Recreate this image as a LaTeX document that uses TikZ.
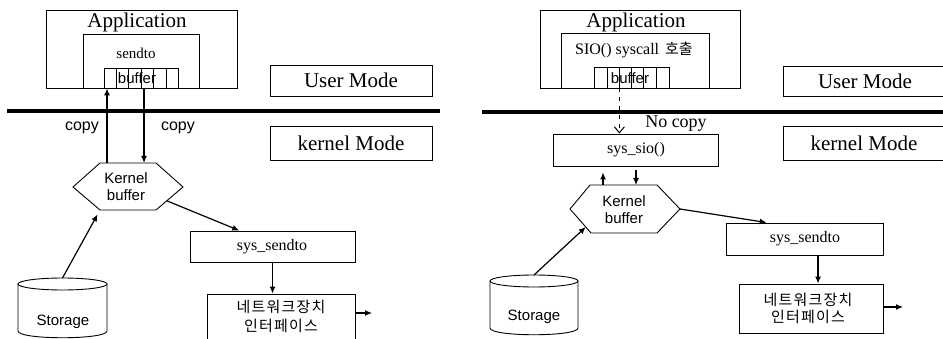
\documentclass[tikz,border=0pt]{standalone}
\usepackage{fontspec}
\setmainfont{Liberation Serif}
\newfontfamily\sansf{Liberation Sans}
\newfontfamily\kfont[LetterSpace=8]{Noto Sans CJK KR}
\newfontfamily\kfontn{Noto Sans CJK KR}
\usetikzlibrary{fit,calc,arrows.meta}
\newcommand\fsz[1]{\fontsize{#1}{#1}\selectfont}

\begin{document}
\begin{tikzpicture}[x=1pt,y=-1pt,
  box/.style={draw, line width=0.9pt, inner sep=0pt},
  cellbox/.style={draw, line width=0.8pt, inner sep=0pt},
  arr/.style={line width=1.2pt, -{Latex[length=7pt,width=6pt]}},
  dasharr/.style={line width=1pt, dash pattern=on 4pt off 5pt, -{Straight Barb[length=6pt,width=10pt]}},
  barline/.style={line width=4pt},
  outline/.style={line width=0.9pt},
  big/.style={inner sep=0pt, font=\fsz{21}},
  mid/.style={inner sep=0pt, font=\fsz{16}},
  small/.style={inner sep=0pt, font=\fsz{15}},
  sanslab/.style={inner sep=0pt, font=\sansf\fsz{15}, align=center},
  korlab/.style={inner sep=0pt, font=\kfont\fsz{15}}
]
\clip (0,0) rectangle (943,339);
\fill[white] (0,0) rectangle (943,339);

% ================= left: ordinary sendto path =================
\node[box, fit={(46,10)(237,88)}] (appL) {};
\node[big] (appLt) at (137,22) {Application};
\node[box, fit={(83,34)(199,88)}] (sendL) {};
\node[small] (sendLt) at (136,53) {sendto};
\foreach \a/\b [count=\i] in {104/116,116/128,128/141,141/153,153/166,166/178}
  \node[cellbox, fit={(\a,68)(\b,88)}] (cL\i) {};
\node[sanslab] (bufL) at (137,78) {buffer};

\draw[barline] (7,111) -- (440,111);

\node[box, fit={(270,65)(432,96)}] (userL) {};
\node[big] (userLt) at (351,80.5) {User Mode};
\node[box, fit={(270,126)(432,160)}] (kernL) {};
\node[big] (kernLt) at (351,143) {kernel Mode};

% kernel buffer hexagon
\coordinate (kLl) at (73,187);
\coordinate (kLtl) at (100,163);
\coordinate (kLtr) at (156,163);
\coordinate (kLr) at (183,187);
\coordinate (kLbr) at (156,210);
\coordinate (kLbl) at (100,210);
\draw[outline] (kLl) -- (kLtl) -- (kLtr) -- (kLr) -- (kLbr) -- (kLbl) -- cycle;
\node[sanslab] (kbL) at (126,186.5) {Kernel\\[1.5pt]buffer};

% copies between user buffer and kernel buffer
\coordinate (cuL) at ($(kLtl)!0.125!(kLtr)$);
\coordinate (cdL) at ($(kLtl)!0.786!(kLtr)$);
\draw[arr] (cuL) -- (cuL |- cL1.south);
\draw[arr] (cdL |- cL1.south) -- (cdL);
\node[sanslab, font=\sansf\fsz{16}] (copyL1) at (82,128) {copy};
\node[sanslab, font=\sansf\fsz{16}] (copyL2) at (178,128) {copy};

\node[box, fit={(190,231)(355,262)}] (ssL) {};
\node[mid] (ssLt) at (272,247) {sys\_sendto};
\draw[arr] ($(kLr)!0.6!(kLbr)$) -- ($(ssL.north west)!0.3!(ssL.north east)$);

\node[box, fit={(207,294)(355,345)}] (netL) {};
\node[korlab] (netL1) at (281,307) {네트워크장치};
\node[korlab] (netL2) at (281,326) {인터페이스};
\draw[arr] (ssL.south) -- (ssL.south |- netL.north);
\coordinate (outL) at (372,313);
\draw[arr] (netL.east |- outL) -- (outL);

% storage cylinder
\draw[outline] (18,284) -- (18,331) .. controls (18,340) and (107,340) .. (107,331) -- (107,284);
\draw[outline] (62.5,284) ellipse [x radius=44.5, y radius=6];
\coordinate (stL) at (62.5,278);
\node[sanslab] (stLt) at (63,322) {Storage};
\draw[arr, shorten >=5pt] (stL) -- (kLbl);

% ================= right: SIO path without copy =================
\node[box, fit={(540,10)(740,88)}] (appR) {};
\node[big] (appRt) at (636,22) {Application};
\node[box, fit={(561,33)(709,88)}] (sioR) {};
\node[mid] (sioRt) at (634,50) {SIO() syscall\hspace{6pt}{\kfontn\fsz{15}호출}};
\foreach \a/\b [count=\i] in {594/607,607/619,619/631,631/643,643/656,656/669}
  \node[cellbox, fit={(\a,67)(\b,88)}] (cR\i) {};
\node[sanslab] (bufR) at (630,78) {buffer};

\draw[barline] (482,112) -- (943,112);

\node[box, fit={(783,66)(945,96)}] (userR) {};
\node[big] (userRt) at (865,81) {User Mode};
\node[box, fit={(783,126)(945,160)}] (kernR) {};
\node[big] (kernRt) at (864,143) {kernel Mode};

\node[box, fit={(553,134)(718,166)}] (sio) {};
\node[mid] (siot) at (636,150) {sys\_sio()};
\draw[dasharr] (cR2.south east) -- (cR2.south east |- sio.north);
\node[big, font=\fsz{18}] (nocopy) at (676,124) {No copy};

% kernel buffer hexagon
\coordinate (kRl) at (570,209);
\coordinate (kRtl) at (590,185);
\coordinate (kRtr) at (657,185);
\coordinate (kRr) at (680,209);
\coordinate (kRbr) at (657,233);
\coordinate (kRbl) at (591,233);
\draw[outline] (kRl) -- (kRtl) -- (kRtr) -- (kRr) -- (kRbr) -- (kRbl) -- cycle;
\node[sanslab] (kbR) at (624,209.5) {Kernel\\[1.5pt]buffer};

\coordinate (cuR) at ($(kRtl)!0.194!(kRtr)$);
\coordinate (cdR) at ($(kRtl)!0.687!(kRtr)$);
\draw[arr, shorten >=6pt] (cuR) -- (cuR |- sio.south);
\draw[arr, shorten <=4pt] (cdR |- sio.south) -- (cdR);

\node[box, fit={(726,223)(883,255)}] (ssR) {};
\node[mid] (ssRt) at (805,239) {sys\_sendto};
\draw[arr] (kRr) -- ($(ssR.north west)!0.26!(ssR.north east)$);

\node[box, fit={(739,284)(883,333)}] (netR) {};
\node[korlab] (netR1) at (808,300) {네트워크장치};
\node[korlab] (netR2) at (808,317) {인터페이스};
\coordinate (sdR) at ($(ssR.south west)!0.586!(ssR.south east)$);
\draw[arr] (sdR) -- (sdR |- netR.north);
\coordinate (outR) at (903,307);
\draw[arr] (netR.east |- outR) -- (outR);

% storage cylinder
\draw[outline] (490,281) -- (490,328) .. controls (490,337) and (578,337) .. (578,328) -- (578,281);
\draw[outline] (534,281) ellipse [x radius=44, y radius=6];
\coordinate (stR) at (534,275);
\node[sanslab] (stRt) at (534,317) {Storage};
\draw[arr] (stR) -- ($(kRl)!0.75!(kRbl)$);
\end{tikzpicture}
\end{document}
